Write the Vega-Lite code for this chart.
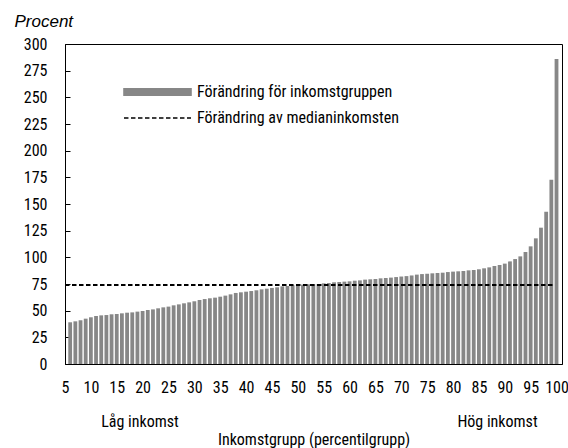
{
  "$schema": "https://vega.github.io/schema/vega-lite/v6.json",
  "width": 497,
  "height": 320,
  "autosize": {"type": "none"},
  "padding": {"left": 65, "top": 44, "right": 6, "bottom": 84},
  "background": "white",
  "config": {
    "view": {"stroke": "black", "strokeWidth": 1},
    "font": "Roboto Condensed, DejaVu Sans Condensed, sans-serif",
    "axis": {
      "labelFont": "Roboto Condensed, DejaVu Sans Condensed, sans-serif",
      "labelFontSize": 16,
      "labelColor": "black",
      "titleFont": "Roboto Condensed, DejaVu Sans Condensed, sans-serif",
      "titleFontSize": 16,
      "titleFontWeight": "normal",
      "titleColor": "black",
      "domainColor": "black",
      "tickColor": "black",
      "grid": false,
      "zindex": 1
    }
  },
  "layer": [
    {
      "data": {
        "values": [
          {"p": 6, "v": 39.1}, {"p": 7, "v": 40.0}, {"p": 8, "v": 41.0}, {"p": 9, "v": 42.5}, {"p": 10, "v": 43.8},
          {"p": 11, "v": 45.0}, {"p": 12, "v": 45.6}, {"p": 13, "v": 45.9}, {"p": 14, "v": 46.6}, {"p": 15, "v": 46.9},
          {"p": 16, "v": 47.5}, {"p": 17, "v": 48.1}, {"p": 18, "v": 48.4}, {"p": 19, "v": 49.1}, {"p": 20, "v": 49.7},
          {"p": 21, "v": 50.6}, {"p": 22, "v": 51.2}, {"p": 23, "v": 52.2}, {"p": 24, "v": 53.1}, {"p": 25, "v": 53.8},
          {"p": 26, "v": 55.0}, {"p": 27, "v": 55.9}, {"p": 28, "v": 56.9}, {"p": 29, "v": 57.8}, {"p": 30, "v": 58.8},
          {"p": 31, "v": 60.0}, {"p": 32, "v": 60.9}, {"p": 33, "v": 61.6}, {"p": 34, "v": 62.2}, {"p": 35, "v": 63.1},
          {"p": 36, "v": 64.1}, {"p": 37, "v": 65.3}, {"p": 38, "v": 66.6}, {"p": 39, "v": 67.2}, {"p": 40, "v": 67.8},
          {"p": 41, "v": 68.4}, {"p": 42, "v": 69.1}, {"p": 43, "v": 70.0}, {"p": 44, "v": 70.6}, {"p": 45, "v": 71.3},
          {"p": 46, "v": 71.9}, {"p": 47, "v": 72.8}, {"p": 48, "v": 73.1}, {"p": 49, "v": 73.8}, {"p": 50, "v": 74.1},
          {"p": 51, "v": 74.4}, {"p": 52, "v": 74.7}, {"p": 53, "v": 74.8}, {"p": 54, "v": 75.0}, {"p": 55, "v": 75.6},
          {"p": 56, "v": 75.9}, {"p": 57, "v": 76.6}, {"p": 58, "v": 76.9}, {"p": 59, "v": 77.2}, {"p": 60, "v": 77.5},
          {"p": 61, "v": 78.1}, {"p": 62, "v": 78.4}, {"p": 63, "v": 79.1}, {"p": 64, "v": 79.4}, {"p": 65, "v": 79.7},
          {"p": 66, "v": 80.3}, {"p": 67, "v": 80.6}, {"p": 68, "v": 81.0}, {"p": 69, "v": 81.5}, {"p": 70, "v": 82.0},
          {"p": 71, "v": 82.4}, {"p": 72, "v": 83.0}, {"p": 73, "v": 83.8}, {"p": 74, "v": 84.3}, {"p": 75, "v": 84.6},
          {"p": 76, "v": 85.0}, {"p": 77, "v": 85.3}, {"p": 78, "v": 85.6}, {"p": 79, "v": 86.2}, {"p": 80, "v": 86.6},
          {"p": 81, "v": 86.9}, {"p": 82, "v": 87.2}, {"p": 83, "v": 87.8}, {"p": 84, "v": 88.1}, {"p": 85, "v": 88.8},
          {"p": 86, "v": 89.7}, {"p": 87, "v": 90.6}, {"p": 88, "v": 91.9}, {"p": 89, "v": 92.8}, {"p": 90, "v": 94.1},
          {"p": 91, "v": 96.2}, {"p": 92, "v": 98.4}, {"p": 93, "v": 100.9}, {"p": 94, "v": 105.0}, {"p": 95, "v": 110.3},
          {"p": 96, "v": 117.8}, {"p": 97, "v": 127.8}, {"p": 98, "v": 142.8}, {"p": 99, "v": 172.8}, {"p": 100, "v": 286.0}
        ]
      },
      "mark": {"type": "bar", "orient": "vertical", "width": 3.8},
      "encoding": {
        "x": {
          "field": "p", "type": "quantitative",
          "scale": {"domain": [5, 101.06], "nice": false, "zero": false, "padding": 0},
          "axis": {
            "orient": "bottom",
            "values": [5, 10, 15, 20, 25, 30, 35, 40, 45, 50, 55, 60, 65, 70, 75, 80, 85, 90, 95, 100],
            "tickSize": -5,
            "labelPadding": 20,
            "labelFlush": false,
            "labelOverlap": false,
            "title": "Inkomstgrupp (percentilgrupp)",
            "titlePadding": 36
          }
        },
        "y": {
          "field": "v", "type": "quantitative",
          "scale": {"domain": [0, 300], "nice": false, "padding": 0},
          "axis": {
            "values": [0, 25, 50, 75, 100, 125, 150, 175, 200, 225, 250, 275, 300],
            "tickSize": -5,
            "labelPadding": 23,
            "labelFlush": false,
            "labelOverlap": false,
            "title": "Procent",
            "titleFont": "Liberation Sans",
            "titleFontStyle": "italic",
            "titleFontSize": 17,
            "titleAngle": 0,
            "titleAlign": "left",
            "titleBaseline": "alphabetic",
            "titleX": -51,
            "titleY": -18
          }
        },
        "color": {
          "datum": "Förändring för inkomstgruppen",
          "type": "nominal",
          "scale": {
            "domain": ["Förändring för inkomstgruppen", "Förändring av medianinkomsten"],
            "range": ["#878787", "#000000"]
          },
          "legend": {
            "title": null,
            "orient": "none",
            "legendX": 84.5,
            "legendY": 40,
            "padding": 0,
            "labelFont": "Roboto Condensed, DejaVu Sans Condensed, sans-serif",
            "labelFontSize": 16,
            "labelColor": "black",
            "labelLimit": 400,
            "labelOffset": 31.5,
            "rowPadding": 10,
            "symbolSize": 45,
            "encode": {
              "symbols": {
                "update": {
                  "shape": {"signal": "datum.index === 0 ? 'M-10,-1H10V1H-10Z' : 'M-10,0H10'"},
                  "fill": {"signal": "datum.index === 0 ? '#878787' : 'transparent'"},
                  "stroke": {"signal": "datum.index === 0 ? 'transparent' : 'black'"},
                  "strokeDash": {"signal": "datum.index === 0 ? [1,0] : [4.5,2.5]"},
                  "strokeWidth": {"value": 1.5},
                  "size": {"value": 45},
                  "opacity": {"value": 1}
                }
              }
            }
          }
        }
      }
    },
    {
      "data": {"values": [{"p": 5, "p2": 99.3, "v": 74}]},
      "mark": {"type": "rule", "strokeDash": [4.5, 2.5], "strokeWidth": 2},
      "encoding": {
        "x": {
          "field": "p", "type": "quantitative",
          "axis": {
            "orient": "bottom",
            "values": [19.4, 88.5],
            "labelExpr": "datum.value < 50 ? 'Låg inkomst' : 'Hög inkomst'",
            "domain": false,
            "ticks": false,
            "labelPadding": 49,
            "labelFlush": false,
            "labelOverlap": false,
            "title": null
          }
        },
        "x2": {"field": "p2"},
        "y": {"field": "v", "type": "quantitative", "axis": null},
        "color": {"datum": "Förändring av medianinkomsten", "type": "nominal"}
      }
    }
  ],
  "resolve": {"axis": {"x": "independent", "y": "independent"}}
}
